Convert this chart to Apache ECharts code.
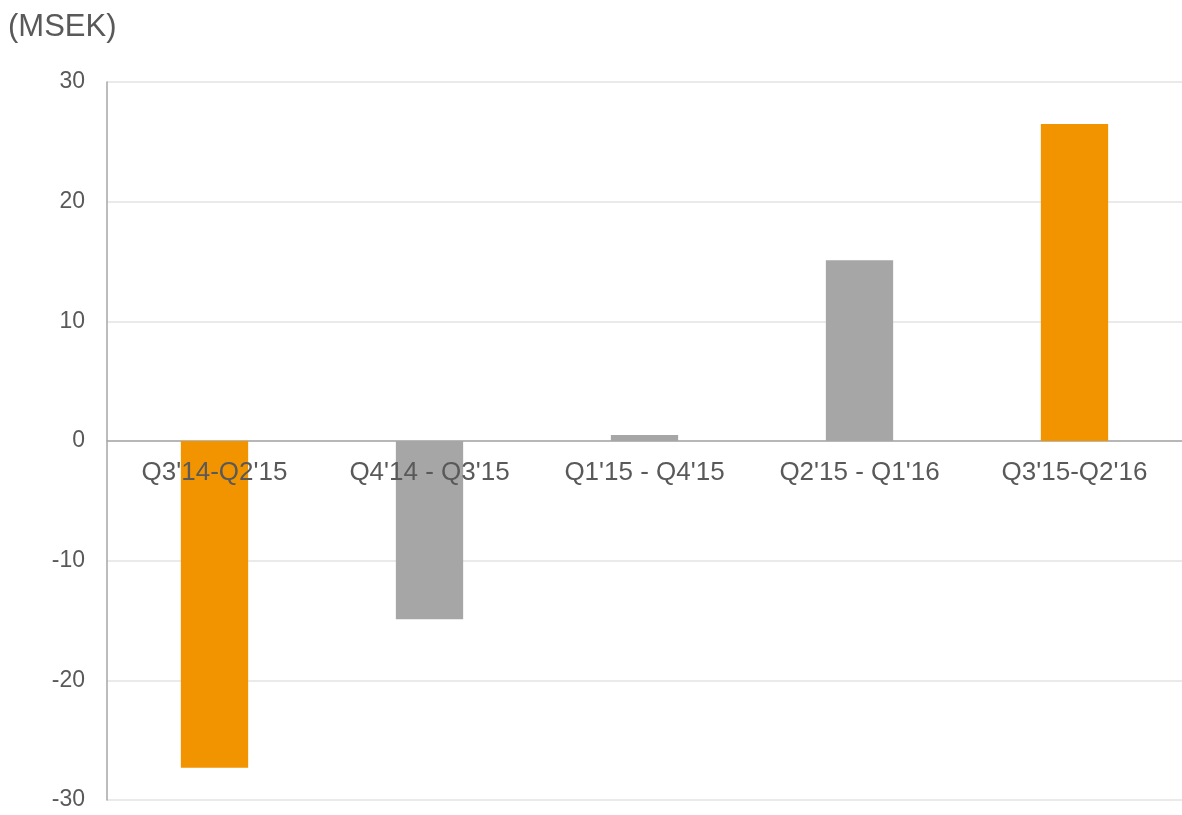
<!DOCTYPE html>
<html>
<head>
<meta charset="utf-8">
<script src="https://cdn.jsdelivr.net/npm/echarts@6/dist/echarts.min.js"></script>
<style>
html,body{margin:0;padding:0;background:#fff;}
#chart{width:1182px;height:815px;}
</style>
</head>
<body>
<div id="chart"></div>
<script>
const categories = ["Q3'14-Q2'15", "Q4'14 - Q3'15", "Q1'15 - Q4'15", "Q2'15 - Q1'16", "Q3'15-Q2'16"];
const values = [-27.3, -14.9, 0.5, 15.1, 26.5];
const barColors = ["#F29400", "#A6A6A6", "#A6A6A6", "#A6A6A6", "#F29400"];
const unitLabel = "(MSEK)";

const W = 1182, H = 815;
const gridTop = 82, gridBottom = 15;
const gridHeight = H - gridTop - gridBottom;
const font = 'Liberation Sans, Arial, sans-serif';

const chart = echarts.init(document.getElementById('chart'));
chart.setOption({
  animation: false,
  backgroundColor: '#ffffff',
  title: {
    text: unitLabel,
    left: 3,
    top: 7,
    textStyle: { fontFamily: font, fontSize: 31, fontWeight: 'normal', color: '#595959' }
  },
  grid: { left: 107, right: 0, top: gridTop, bottom: gridBottom, containLabel: false, outerBoundsMode: 'none' },
  xAxis: [{
    type: 'category',
    data: categories,
    axisLine: { show: true, onZero: true, lineStyle: { color: '#A6A6A6', width: 1.5 } },
    axisTick: { show: false },
    axisLabel: { show: false },
    splitLine: { show: false }
  }, {
    type: 'category',
    data: categories,
    position: 'bottom',
    offset: -gridHeight / 2,
    z: 5,
    axisLine: { show: false },
    axisTick: { show: false },
    axisLabel: { margin: 19, fontFamily: font, fontSize: 26, color: '#595959' },
    splitLine: { show: false }
  }],
  yAxis: {
    type: 'value',
    min: -30,
    max: 30,
    interval: 10,
    axisLine: { show: true, lineStyle: { color: '#A6A6A6', width: 1.5 } },
    axisTick: { show: false },
    axisLabel: { margin: 22, fontFamily: font, fontSize: 23, color: '#595959' },
    splitLine: { show: true, lineStyle: { color: '#E3E3E3', width: 1.5 } }
  },
  series: [{
    type: 'bar',
    xAxisIndex: 0,
    data: values.map((v, i) => ({ value: v, itemStyle: { color: barColors[i] } })),
    barWidth: '31.3%'
  }]
});
</script>
</body>
</html>
